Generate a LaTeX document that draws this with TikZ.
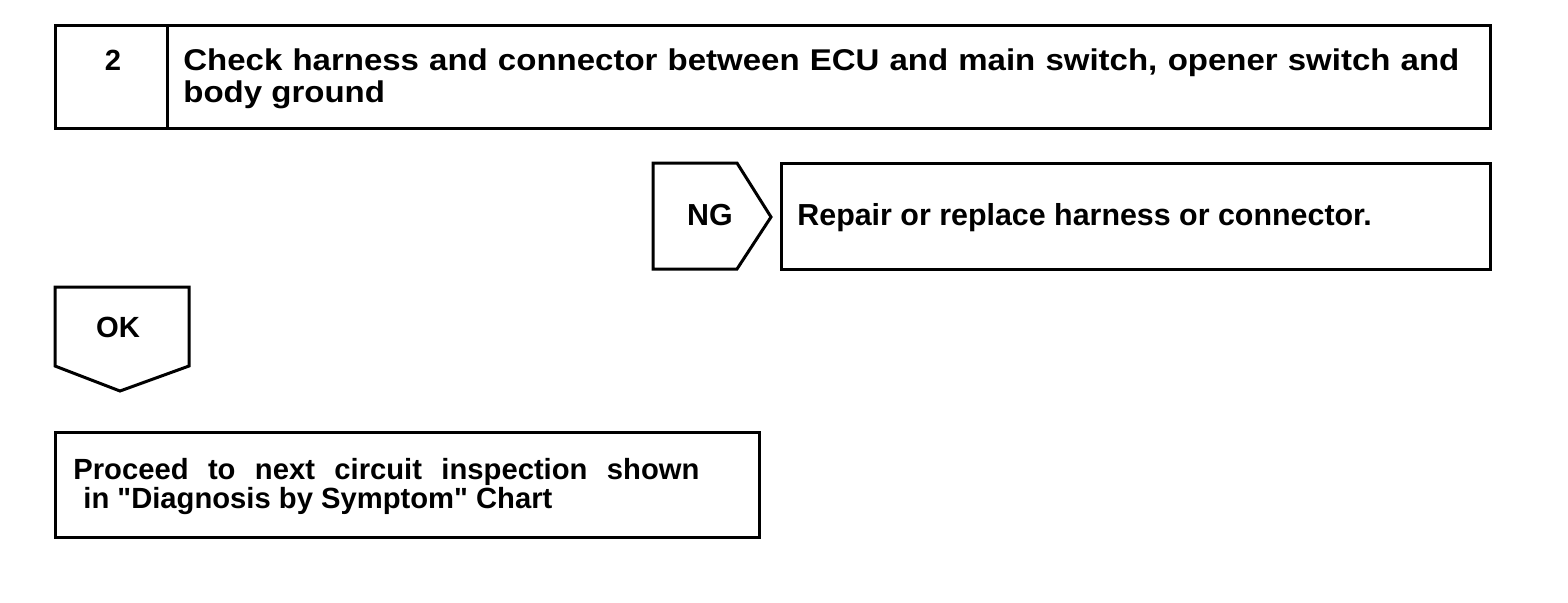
\documentclass[tikz,border=0pt]{standalone}
\usepackage{fontspec}
\setmainfont{Liberation Sans}
\newfontfamily\widefont[FakeStretch=1.1]{Liberation Sans}
\newfontfamily\procfont[Ligatures=TeXOff]{Liberation Sans}
\begin{document}
\begin{tikzpicture}[x=0.5pt,y=-0.5pt,
  frame/.style={draw, line width=1.5pt, line join=miter},
  lbl/.style={font=\bfseries\fontsize{15.2}{17}\selectfont, inner sep=0pt, anchor=base west},
  tlbl/.style={font=\widefont\bfseries\fontsize{15}{17}\selectfont, inner sep=0pt, anchor=base west},
  plbl/.style={font=\procfont\bfseries\fontsize{14.6}{16}\selectfont, inner sep=0pt, anchor=base west}]
\useasboundingbox (0,0) rectangle (1568,602);
% step box
\draw[frame] (55,25) rectangle (1490,128);
\draw[frame] (167,25) -- (167,128);
\node[plbl, anchor=base] (num) at (113,70) {2};
\node[tlbl] (title1) at (183,70) {\makebox[638pt][s]{Check harness and connector between ECU and main switch, opener switch and}};
\node[tlbl] (title2) at (183,102) {body ground};
% NG
\draw[frame] (653,163) -- (737,163) -- (771,217) -- (737,269) -- (653,269) -- cycle;
\node[lbl, anchor=base] (ng) at (710,225) {NG};
\draw[frame] (781,163) rectangle (1490,269);
\node[lbl] (repair) at (797,225) {Repair or replace harness or connector.};
% OK
\draw[frame] (55,287) -- (189,287) -- (189,366) -- (120,391) -- (55,366) -- cycle;
\node[plbl, anchor=base] (ok) at (118,337) {OK};
% proceed
\draw[frame] (55,432) rectangle (759,537);
\node[plbl] (proc1) at (73,479) {\makebox[313pt][s]{Proceed to next circuit inspection shown}};
\node[plbl] (proc2) at (83,508) {in "Diagnosis by Symptom" Chart};
\end{tikzpicture}
\end{document}
